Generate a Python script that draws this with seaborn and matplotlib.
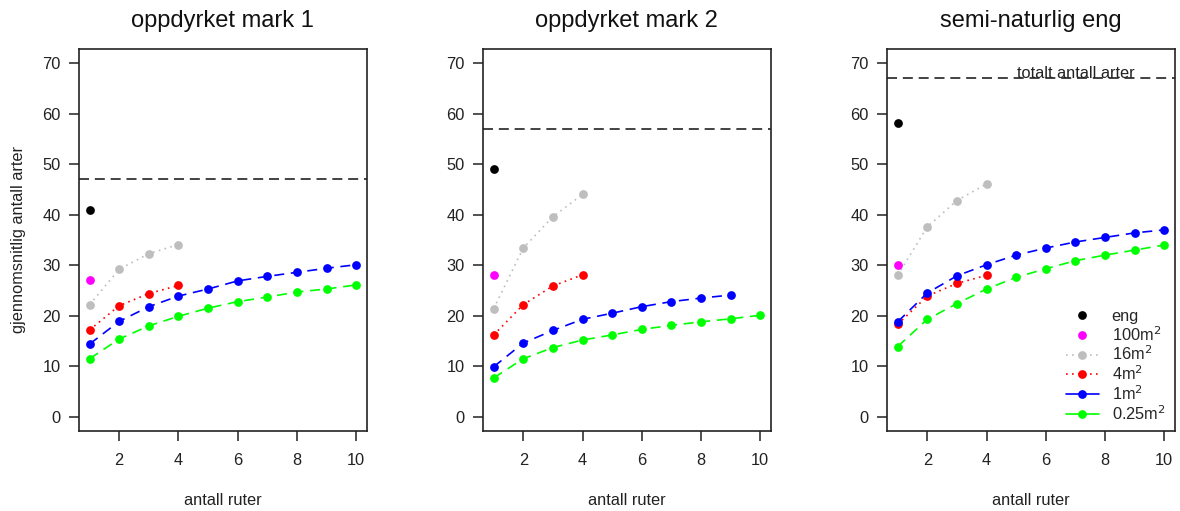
"""Artsakkumulering: gjennomsnittlig antall arter mot antall ruter for tre marktyper."""
import matplotlib
matplotlib.use("Agg")
import matplotlib.pyplot as plt
from matplotlib.lines import Line2D
import seaborn as sns

# --- data ---
panel_titles = ["oppdyrket mark 1", "oppdyrket mark 2", "semi-naturlig eng"]
total_arter = [47, 57, 67]

eng_vals = [41.0, 49.1, 58.1]
m100_vals = [27.1, 28.1, 30.0]

ruter_16 = [1, 2, 3, 4]
ruter_4 = [1, 2, 3, 4]
ruter_1 = [1, 2, 3, 4, 5, 6, 7, 8, 9, 10]
ruter_025 = [1, 2, 3, 4, 5, 6, 7, 8, 9, 10]

m16_vals = [
    [22.2, 29.2, 32.3, 34.1],
    [21.4, 33.4, 39.6, 44.0],
    [28.0, 37.6, 42.8, 46.1],
]
m4_vals = [
    [17.2, 22.0, 24.4, 26.0],
    [16.2, 22.2, 25.9, 28.1],
    [18.3, 23.9, 26.4, 28.0],
]
m1_vals = [
    [14.4, 18.9, 21.8, 23.9, 25.3, 26.9, 27.8, 28.6, 29.4, 30.1],
    [9.9, 14.6, 17.1, 19.3, 20.5, 21.8, 22.8, 23.5, 24.1],
    [18.8, 24.5, 27.9, 30.1, 32.0, 33.4, 34.6, 35.5, 36.4, 37.0],
]
m025_vals = [
    [11.5, 15.4, 18.0, 19.9, 21.5, 22.8, 23.7, 24.7, 25.3, 26.1],
    [7.7, 11.5, 13.7, 15.2, 16.2, 17.3, 18.1, 18.8, 19.4, 20.1],
    [13.9, 19.3, 22.4, 25.3, 27.6, 29.3, 30.9, 32.0, 33.0, 34.0],
]

legend_labels = ["eng", "100m$^2$", "16m$^2$", "4m$^2$", "1m$^2$", "0.25m$^2$"]
x_ticks = [2, 4, 6, 8, 10]
y_ticks = [0, 10, 20, 30, 40, 50, 60, 70]

# --- styling ---
sns.set_theme(style="ticks")
plt.rcParams["font.family"] = ["Liberation Sans", "DejaVu Sans"]

DOTTED = (0, (1.0, 2.6))
DASHED = (0, (6, 4))
MS = 6.3
LW = 1.2

fig = plt.figure(figsize=(11.8, 5.11), dpi=100)
lefts = [0.0669, 0.4093, 0.7517]
axes = [fig.add_axes([l, 0.1566, 0.244, 0.7476]) for l in lefts]


def draw_series(ax, x, y, color, ls):
    n = len(y)
    sns.lineplot(x=x[:n], y=y, ax=ax, color=color, linestyle=ls, linewidth=LW,
                 marker="o", markersize=MS, markeredgewidth=0,
                 markeredgecolor=color, legend=False)


for i, ax in enumerate(axes):
    ax.axhline(total_arter[i], color="#222222", linestyle=(0, (6, 3.5)), linewidth=1.2, zorder=1)

    draw_series(ax, ruter_16, m16_vals[i], "#BEBEBE", DOTTED)
    draw_series(ax, ruter_4, m4_vals[i], "#FF0000", DOTTED)
    draw_series(ax, ruter_1, m1_vals[i], "#0000FF", DASHED)
    draw_series(ax, ruter_025, m025_vals[i], "#00FF00", DASHED)

    sns.scatterplot(x=[1], y=[m100_vals[i]], ax=ax, color="#FF00FF", s=MS ** 2,
                    linewidth=0, legend=False, zorder=4)
    sns.scatterplot(x=[1], y=[eng_vals[i]], ax=ax, color="black", s=MS ** 2,
                    linewidth=0, legend=False, zorder=4)

    ax.set_xlim(0.64, 10.36)
    ax.set_ylim(-2.8, 72.8)
    ax.set_xticks(x_ticks)
    ax.set_yticks(y_ticks)
    ax.tick_params(axis="both", direction="out", length=7, width=1.1,
                   labelsize=11.8, colors="#222222")
    ax.tick_params(axis="x", pad=9)
    ax.tick_params(axis="y", pad=6)
    for sp in ax.spines.values():
        sp.set_visible(True)
        sp.set_linewidth(1.2)
        sp.set_color("#222222")
    ax.set_title(panel_titles[i], fontsize=17, pad=16, color="#111111")
    ax.set_xlabel("antall ruter", fontsize=11.8, labelpad=18, color="#222222")
    ax.set_ylabel("")

axes[0].set_ylabel("gjennomsnitlig antall arter", fontsize=11.8, labelpad=12, color="#222222")

axes[2].text(7, total_arter[2], "totalt antall arter", ha="center", va="baseline",
             fontsize=11.8, color="#222222", zorder=3)

handles = [
    Line2D([], [], color="black", marker="o", linestyle="none", markersize=MS, markeredgewidth=0),
    Line2D([], [], color="#FF00FF", marker="o", linestyle="none", markersize=MS, markeredgewidth=0),
    Line2D([], [], color="#BEBEBE", marker="o", linestyle=DOTTED, linewidth=LW, markersize=MS, markeredgewidth=0),
    Line2D([], [], color="#FF0000", marker="o", linestyle=DOTTED, linewidth=LW, markersize=MS, markeredgewidth=0),
    Line2D([], [], color="#0000FF", marker="o", linestyle="-", linewidth=LW, markersize=MS, markeredgewidth=0),
    Line2D([], [], color="#00FF00", marker="o", linestyle="-", linewidth=LW, markersize=MS, markeredgewidth=0),
]
leg = axes[2].legend(handles, legend_labels, loc="lower right", bbox_to_anchor=(1.01, -0.01),
                     fontsize=11.8, frameon=True, fancybox=False, handlelength=2.0,
                     handletextpad=0.8, labelspacing=0.06, borderpad=0.25)
leg.get_frame().set_facecolor("white")
leg.get_frame().set_edgecolor("none")
leg.get_frame().set_alpha(1)

fig.savefig("out.png", dpi=100)
